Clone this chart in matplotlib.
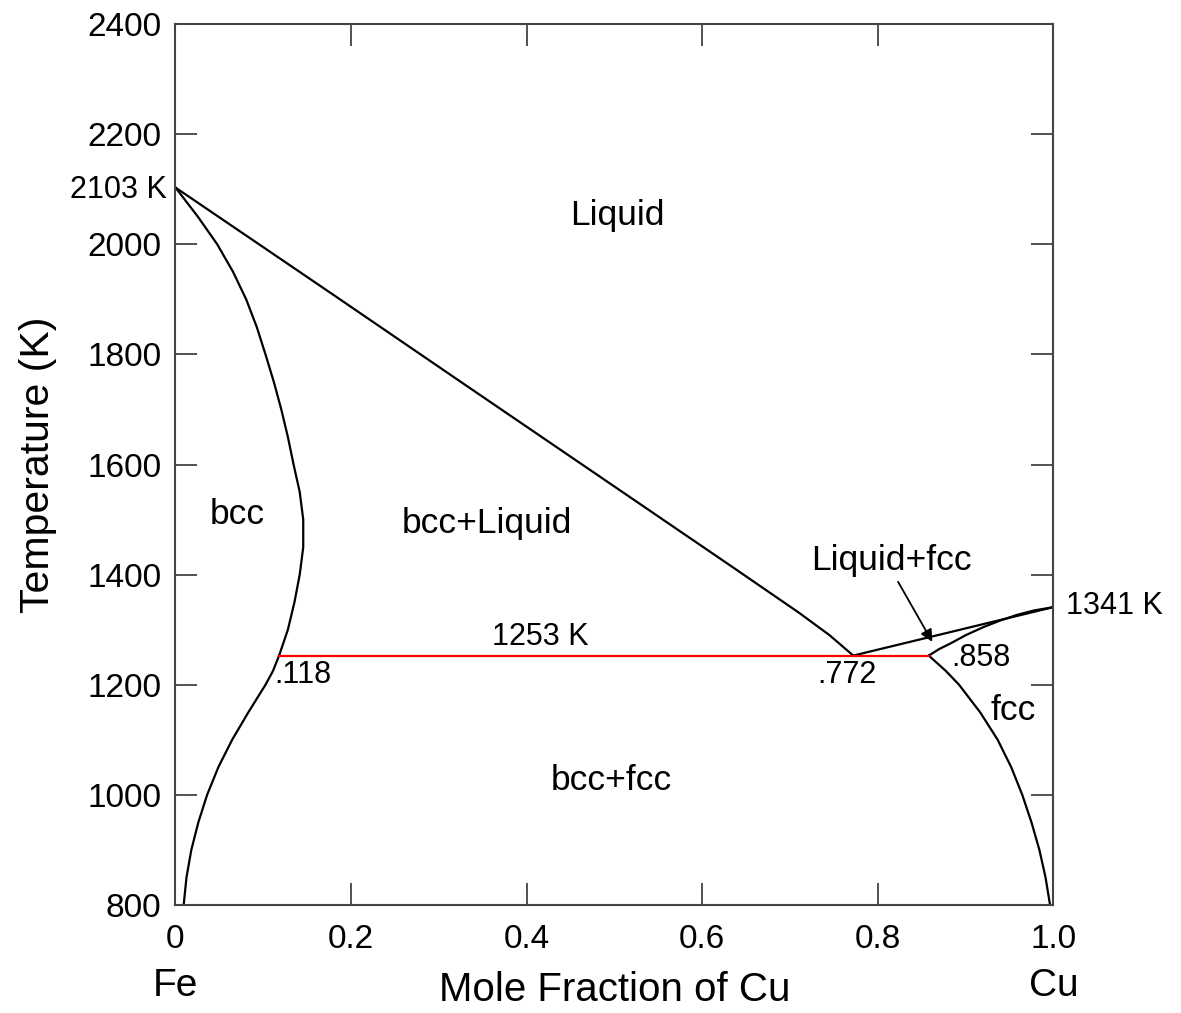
import numpy as np
import matplotlib.pyplot as plt

plt.rcParams['font.family'] = ['Liberation Sans', 'DejaVu Sans']

# Fe-Cu Phasendiagramm, Werte
# Liquidus (Fe-Seite)
liq_fe_x = [0.0, 0.1763, 0.3278, 0.4797, 0.6315, 0.71, 0.745, 0.772]
liq_fe_T = [2103, 1912, 1747, 1582, 1417, 1331, 1290, 1253]

# Solidus bcc (oben)
bcc_sol_x = [0.0, 0.0255, 0.0475, 0.0655, 0.0805, 0.0925, 0.1025, 0.112, 0.1205,
             0.128, 0.1345, 0.1415, 0.1455, 0.1455, 0.1415, 0.1355, 0.128, 0.118]
bcc_sol_T = [2103, 2050, 2000, 1950, 1900, 1850, 1800, 1750, 1700,
             1650, 1600, 1550, 1500, 1450, 1400, 1350, 1300, 1253]

# Solvus bcc (unten)
bcc_solv_x = [0.118, 0.111, 0.1025, 0.083, 0.0645, 0.049, 0.036, 0.026, 0.018, 0.0125, 0.0095]
bcc_solv_T = [1253, 1225, 1200, 1150, 1100, 1051, 1000, 950, 900, 850, 803]

# Cu-Seite
liq_cu_x = [0.772, 1.0]
liq_cu_T = [1253, 1341]
fcc_sol_x = [0.858, 0.870, 0.8827, 0.900, 0.9206, 0.940, 0.9587, 0.978, 1.0]
fcc_sol_T = [1253, 1265, 1275, 1290, 1305, 1317, 1327, 1335, 1341]
fcc_solv_x = [0.858, 0.8775, 0.8925, 0.9165, 0.9365, 0.952, 0.9645, 0.975, 0.984, 0.991, 0.9958]
fcc_solv_T = [1253, 1225, 1200, 1150, 1100, 1050, 1000, 950, 900, 850, 803]

# Eutektikale
eut_x = [0.118, 0.858]
eut_T = [1253, 1253]

xticks = [0, 0.2, 0.4, 0.6, 0.8, 1.0]
xticklabels = ['0', '0.2', '0.4', '0.6', '0.8', '1.0']
yticks = np.arange(800, 2401, 200)

fig = plt.figure(figsize=(11.81, 10.13), dpi=100)
ax = fig.add_axes([0.1486, 0.1066, 0.7434, 0.8697])

lw = 1.6
for xs, ts in [(liq_fe_x, liq_fe_T), (bcc_sol_x, bcc_sol_T), (bcc_solv_x, bcc_solv_T),
               (liq_cu_x, liq_cu_T), (fcc_sol_x, fcc_sol_T), (fcc_solv_x, fcc_solv_T)]:
    ax.plot(xs, ts, color='black', lw=lw, solid_joinstyle='round')
ax.plot(eut_x, eut_T, color='red', lw=1.6)

ax.set_xlim(0, 1.0)
ax.set_ylim(800, 2400)
ax.set_xticks(xticks)
ax.set_xticklabels(xticklabels)
ax.set_yticks(yticks)
ax.tick_params(direction='in', length=16, width=1.2, color='#333333',
               labelsize=24, top=True, right=True)
ax.tick_params(axis='x', pad=14)
ax.tick_params(axis='y', pad=10)
for s in ax.spines.values():
    s.set_linewidth(1.5)
    s.set_color('#444444')

ax.set_ylabel('Temperature (K)', fontsize=29.5, labelpad=22)
ax.set_xlabel('Mole Fraction of Cu', fontsize=29, labelpad=11)

# Beschriftungen
fs_reg = 25.5
ax.text(0.503, 2053, 'Liquid', fontsize=fs_reg, ha='center', va='center')
ax.text(0.070, 1510, 'bcc', fontsize=fs_reg, ha='center', va='center')
ax.text(0.355, 1492, 'bcc+Liquid', fontsize=fs_reg, ha='center', va='center')
ax.text(0.816, 1425, 'Liquid+fcc', fontsize=fs_reg, ha='center', va='center')
ax.text(0.954, 1154, 'fcc', fontsize=fs_reg, ha='center', va='center')
ax.text(0.497, 1027, 'bcc+fcc', fontsize=fs_reg, ha='center', va='center')

fs_num = 22
ax.text(0.416, 1287, '1253 K', fontsize=fs_num, ha='center', va='center')
ax.text(0.1455, 1218, '.118', fontsize=fs_num, ha='center', va='center')
ax.text(0.765, 1218, '.772', fontsize=fs_num, ha='center', va='center')
ax.text(0.917, 1249, '.858', fontsize=fs_num, ha='center', va='center')
ax.text(-0.01, 2099, '2103 K', fontsize=fs_num, ha='right', va='center')
ax.text(1.014, 1343, '1341 K', fontsize=fs_num, ha='left', va='center')

ax.annotate('', xy=(0.862, 1278), xytext=(0.823, 1387),
            arrowprops=dict(arrowstyle='-|>', color='black', lw=1.3,
                            mutation_scale=18, shrinkA=0, shrinkB=0))

ax.text(0.0, -0.092, 'Fe', transform=ax.transAxes, fontsize=28,
        ha='center', va='center')
ax.text(1.0, -0.092, 'Cu', transform=ax.transAxes, fontsize=28,
        ha='center', va='center')

fig.savefig('out.png', dpi=100, facecolor='white')
